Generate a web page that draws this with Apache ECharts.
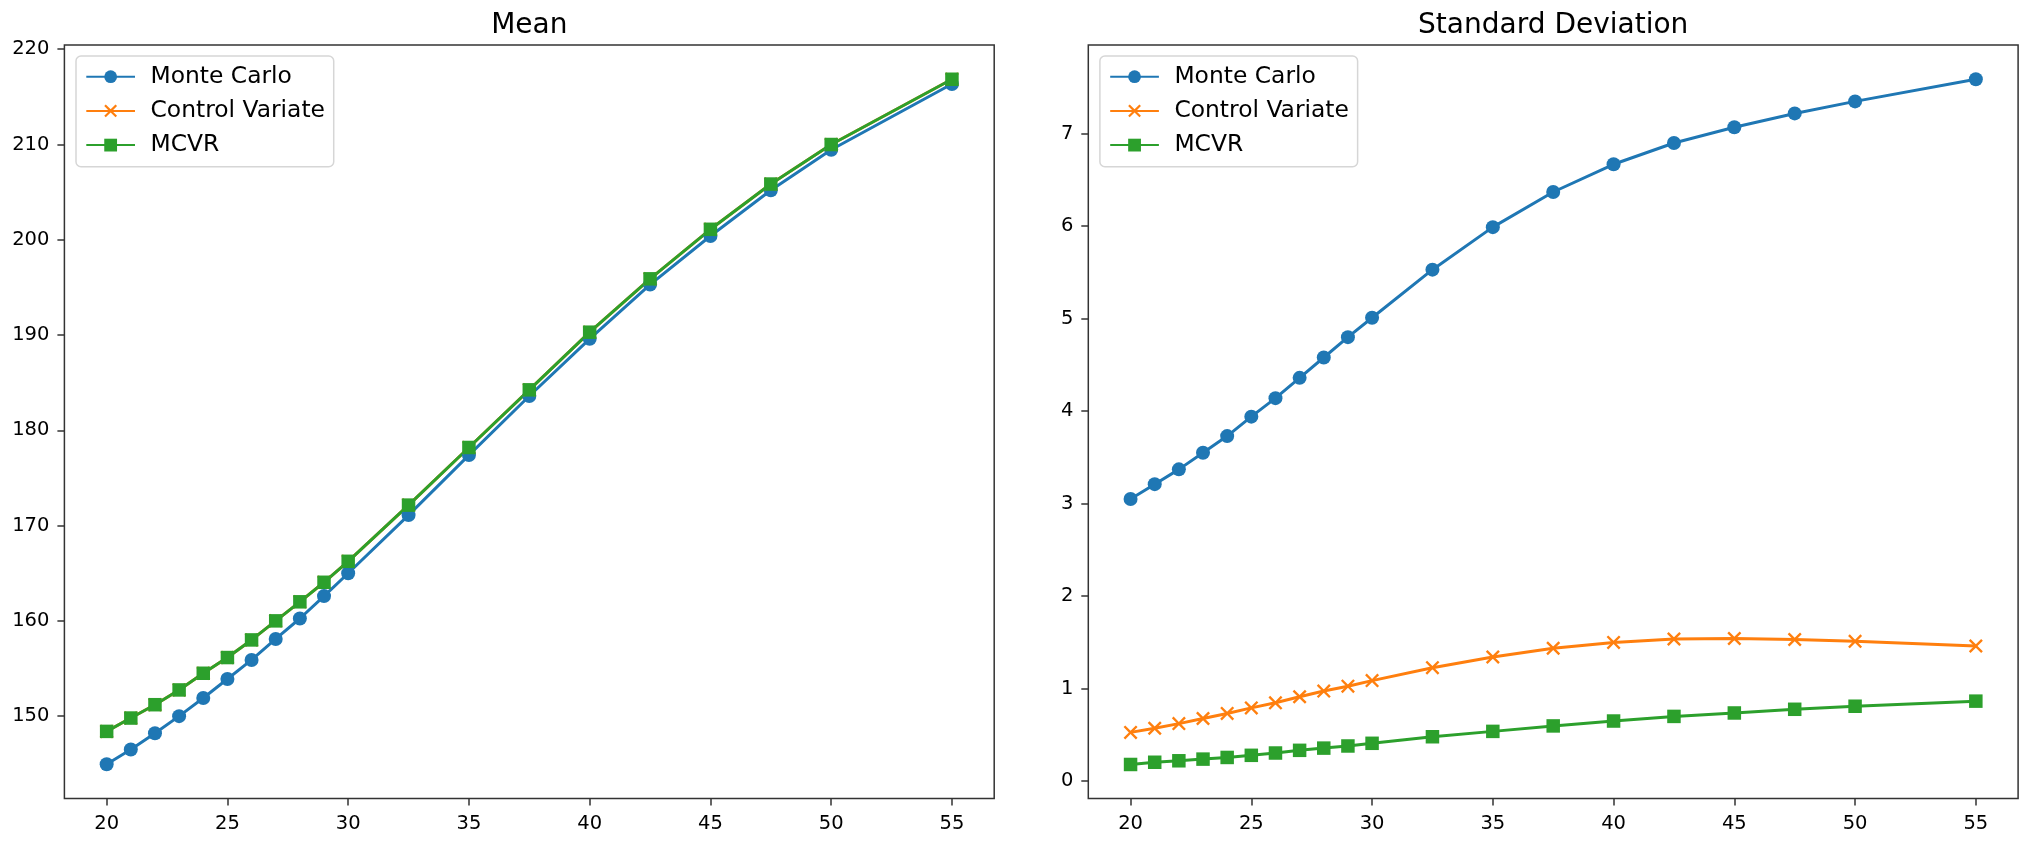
<!DOCTYPE html>
<html>
<head>
<meta charset="utf-8">
<script src="https://cdn.jsdelivr.net/npm/echarts@6/dist/echarts.min.js"></script>
<style>
html,body{margin:0;padding:0;background:#fff;}
#chart{width:2031px;height:846px;}
</style>
</head>
<body>
<div id="chart"></div>
<script>
// ---- data ----
const xValues = [20, 21, 22, 23, 24, 25, 26, 27, 28, 29, 30, 32.5, 35, 37.5, 40, 42.5, 45, 47.5, 50, 55];
const seriesNames = ['Monte Carlo', 'Control Variate', 'MCVR'];

const meanMC   = [144.95, 146.5, 148.2, 150.0, 151.9, 153.9, 155.9, 158.1, 160.25, 162.6, 165.0, 171.1, 177.4, 183.6, 189.6, 195.3, 200.4, 205.2, 209.45, 216.35];
const meanCV   = [148.4, 149.8, 151.2, 152.75, 154.5, 156.15, 158.0, 160.0, 162.0, 164.05, 166.25, 172.15, 178.2, 184.25, 190.3, 195.9, 201.1, 205.85, 210.0, 216.85];
const meanMCVR = [148.4, 149.8, 151.2, 152.75, 154.5, 156.15, 158.0, 160.0, 162.0, 164.05, 166.25, 172.15, 178.2, 184.25, 190.3, 195.9, 201.1, 205.85, 210.0, 216.85];

const stdMC   = [3.05, 3.21, 3.37, 3.55, 3.73, 3.94, 4.14, 4.36, 4.58, 4.80, 5.01, 5.53, 5.99, 6.37, 6.67, 6.90, 7.07, 7.22, 7.35, 7.59];
const stdCV   = [0.525, 0.57, 0.62, 0.675, 0.73, 0.79, 0.845, 0.91, 0.972, 1.025, 1.085, 1.225, 1.34, 1.435, 1.498, 1.535, 1.54, 1.53, 1.51, 1.46];
const stdMCVR = [0.178, 0.202, 0.218, 0.236, 0.254, 0.277, 0.302, 0.331, 0.355, 0.378, 0.407, 0.478, 0.536, 0.595, 0.648, 0.698, 0.735, 0.775, 0.808, 0.863];

const xTicks = [20, 25, 30, 35, 40, 45, 50, 55];
const meanTicks = [150, 160, 170, 180, 190, 200, 210, 220];
const stdTicks = [0, 1, 2, 3, 4, 5, 6, 7];
const titles = ['Mean', 'Standard Deviation'];

// ---- styling ----
const colors = ['#1f77b4', '#ff7f0e', '#2ca02c'];
const xSymbol = 'path://M0,12 L12,0 L50,38 L88,0 L100,12 L62,50 L100,88 L88,100 L50,62 L12,100 L0,88 L38,50 Z';
const symbols = ['circle', xSymbol, 'rect'];
const symbolSizes = [14, 14, 13.5];
const FONT = 'DejaVu Sans';
const AX = '#333333';

const gridW = 929.8, gridTop = 45, gridH = 753.5;
const gridLefts = [64.4, 1088.3];

function pairs(ys) { return xValues.map((x, i) => [x, ys[i]]); }

function xAxisFor(gi) {
  return {
    type: 'value', gridIndex: gi, min: 18.25, max: 56.75,
    axisLine: { show: false, onZero: false },
    axisTick: { show: true, length: 7, inside: false, customValues: xTicks, lineStyle: { color: AX, width: 1.5 } },
    axisLabel: { show: true, customValues: xTicks, margin: 15, color: '#000', fontFamily: FONT, fontSize: 19.5 },
    splitLine: { show: false }
  };
}
function yAxisFor(gi, min, max, ticks) {
  return {
    type: 'value', gridIndex: gi, min: min, max: max,
    axisLine: { show: false, onZero: false },
    axisTick: { show: true, length: 7, inside: false, customValues: ticks, lineStyle: { color: AX, width: 1.5 } },
    axisLabel: { show: true, customValues: ticks, margin: 15, color: '#000', fontFamily: FONT, fontSize: 19.5 },
    splitLine: { show: false }
  };
}

function makeSeries(gi, datasets) {
  return datasets.map((d, k) => ({
    type: 'line', name: seriesNames[k], xAxisIndex: gi, yAxisIndex: gi,
    data: pairs(d), symbol: symbols[k], symbolSize: symbolSizes[k],
    showSymbol: true, showAllSymbol: true,
    lineStyle: { color: colors[k], width: 3 },
    itemStyle: { color: colors[k], borderWidth: 0 },
    emphasis: { disabled: true },
    animation: false
  }));
}

function legendFor(gi) {
  return {
    show: true, orient: 'vertical',
    left: gridLefts[gi] + 11.6, top: 56,
    data: seriesNames,
    itemWidth: 48.7, itemHeight: 16, itemGap: 10.2,
    padding: [8.7, 8.7, 9.7, 9.3],
    backgroundColor: '#ffffff', borderColor: '#d6d6d6', borderWidth: 1.5, borderRadius: 5,
    selectedMode: false,
    textStyle: { fontFamily: FONT, fontSize: 23.4, color: '#000', lineHeight: 24, padding: [0, 0, 0, 10.5] }
  };
}

const chart = echarts.init(document.getElementById('chart'), null, { renderer: 'canvas' });
chart.setOption({
  backgroundColor: '#ffffff',
  animation: false,
  title: titles.map((t, gi) => ({
    text: t, left: gridLefts[gi] + gridW / 2, top: 12, textAlign: 'center', padding: 0,
    textStyle: { fontFamily: FONT, fontSize: 28, fontWeight: 'normal', color: '#000', lineHeight: 28 }
  })),
  grid: gridLefts.map(l => ({
    left: l, top: gridTop, width: gridW, height: gridH,
    show: true, borderColor: AX, borderWidth: 1.5, backgroundColor: 'transparent', containLabel: false
  })),
  xAxis: [xAxisFor(0), xAxisFor(1)],
  yAxis: [yAxisFor(0, 141.355, 220.445, meanTicks), yAxisFor(1, -0.19, 7.96, stdTicks)],
  legend: [legendFor(0), legendFor(1)],
  series: [].concat(
    makeSeries(0, [meanMC, meanCV, meanMCVR]),
    makeSeries(1, [stdMC, stdCV, stdMCVR])
  )
});
</script>
</body>
</html>
